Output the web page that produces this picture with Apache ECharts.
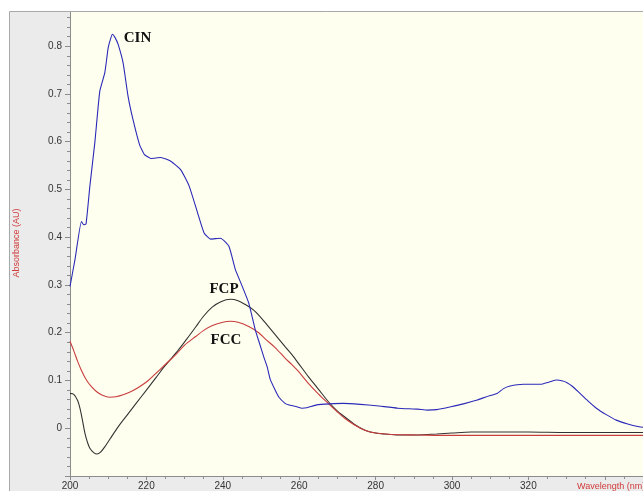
<!DOCTYPE html>
<html>
<head>
<meta charset="utf-8">
<script src="https://cdn.jsdelivr.net/npm/echarts@6/dist/echarts.min.js"></script>
<style>html,body{margin:0;padding:0;background:#fff}#c{width:643px;height:491px}</style>
</head>
<body>
<div id="c"></div>
<script>
// ---- data (wavelength nm, absorbance AU) ----
const cinX = [200,201.3,203.0,203.6,204.2,205.2,206.5,207.8,209.1,210.0,210.6,211.1,211.8,212.6,213.9,215.2,216.5,218.2,219.5,221.2,223.8,226.4,229.0,231.2,233.4,235.1,236.8,239.4,241.6,243.3,245.1,246.8,248.5,249.6,250.7,251.6,252.4,253.7,254.6,256.3,257.2,259.4,260.7,262,264.6,268,271.5,276,280.2,285.8,291,293.6,296,299.7,303,306.6,309,311.8,313.5,315,318.7,323.1,325.5,327.4,329,330.0,331.5,333.5,335.5,337.8,340.5,343.0,346,349,350];
const cinY = [0.297,0.353,0.433,0.426,0.428,0.507,0.598,0.706,0.744,0.797,0.815,0.825,0.818,0.804,0.765,0.695,0.646,0.594,0.573,0.565,0.567,0.559,0.541,0.507,0.451,0.409,0.396,0.398,0.381,0.332,0.297,0.262,0.206,0.178,0.150,0.129,0.103,0.080,0.066,0.052,0.049,0.045,0.042,0.043,0.049,0.051,0.052,0.050,0.047,0.042,0.040,0.038,0.039,0.045,0.051,0.059,0.066,0.073,0.083,0.088,0.092,0.092,0.097,0.101,0.099,0.096,0.088,0.073,0.058,0.042,0.028,0.017,0.009,0.003,0.002];

const fcpX = [200,201,202,202.6,203.3,203.9,204.6,205.2,206.2,207.1,208,209.1,210.5,212.6,215,217.3,220,222.5,225,228.2,230.5,232.9,235,237.3,239.5,242.0,244,245.9,248,249.4,251.1,253.7,256.3,258.1,259.8,262.4,265,267.6,270,271.9,274.5,277.2,280,282.3,286,291,296,300,305,320,330,350];
const fcpY = [0.073,0.071,0.058,0.042,0.015,-0.010,-0.030,-0.042,-0.051,-0.054,-0.050,-0.039,-0.022,0.003,0.028,0.052,0.080,0.106,0.132,0.162,0.186,0.212,0.235,0.254,0.265,0.270,0.267,0.259,0.248,0.237,0.221,0.196,0.171,0.154,0.136,0.108,0.082,0.056,0.036,0.024,0.008,-0.004,-0.010,-0.012,-0.014,-0.014,-0.012,-0.010,-0.008,-0.008,-0.009,-0.009];

const fccX = [200,201,202,203,204.3,205.5,206.9,208.5,210.4,212,213.9,216,218.2,220.5,222.5,225,227.7,230,232.9,235,237.3,240,242.0,244,246.8,249.4,251.1,253.7,256.3,258.1,259.8,262.4,265,267.6,270,271.9,274.5,277.2,280,284.1,291,300,350];
const fccY = [0.182,0.162,0.140,0.121,0.101,0.088,0.077,0.069,0.065,0.066,0.070,0.077,0.087,0.100,0.115,0.134,0.154,0.174,0.192,0.205,0.215,0.222,0.224,0.222,0.213,0.200,0.187,0.169,0.147,0.133,0.119,0.094,0.072,0.052,0.034,0.021,0.007,-0.004,-0.010,-0.013,-0.014,-0.015,-0.015];

const xTickLabels = [200,220,240,260,280,300,320];
const yTickLabels = [0,0.1,0.2,0.3,0.4,0.5,0.6,0.7,0.8];

const zip = (xs, ys) => xs.map((x, i) => [x, ys[i]]);

const chart = echarts.init(document.getElementById('c'), null, {renderer: 'canvas'});
const axisGray = '#8c8c8c';
const option = {
  backgroundColor: '#ebebeb',
  animation: false,
  grid: {left: 70, top: 8, width: 577, height: 468, show: true, backgroundColor: '#fffff0', borderWidth: 0, containLabel: false},
  xAxis: {
    type: 'value', min: 200, max: 350, interval: 20,
    axisLine: {show: true, onZero: false, lineStyle: {color: axisGray, width: 1}},
    axisTick: {show: true, length: 4, lineStyle: {color: axisGray}},
    minorTick: {show: true, splitNumber: 4, length: 3, lineStyle: {color: axisGray}},
    splitLine: {show: false},
    axisLabel: {
      margin: 5, color: '#333', fontSize: 10, fontFamily: 'Liberation Sans',
      showMaxLabel: false,
      formatter: v => xTickLabels.indexOf(Math.round(v)) >= 0 && Math.abs(v - Math.round(v)) < 1e-6 ? String(Math.round(v)) : ''
    }
  },
  yAxis: {
    type: 'value', min: -0.1, max: 0.88, interval: 0.1,
    axisLine: {show: true, onZero: false, lineStyle: {color: axisGray, width: 1}},
    axisTick: {show: true, length: 5, lineStyle: {color: axisGray}},
    minorTick: {show: true, splitNumber: 5, length: 3, lineStyle: {color: axisGray}},
    splitLine: {show: false},
    axisLabel: {
      margin: 8, color: '#333', fontSize: 10, fontFamily: 'Liberation Sans',
      showMinLabel: false, showMaxLabel: false,
      formatter: v => {
        const r = Math.round(v * 10) / 10;
        if (Math.abs(v - r) > 1e-6) return '';
        const hit = yTickLabels.find(t => Math.abs(t - r) < 1e-6);
        if (hit === undefined) return '';
        return hit === 0 ? '0' : hit.toFixed(1);
      }
    }
  },
  series: [
    {name: 'CIN', type: 'line', data: zip(cinX, cinY), showSymbol: false, smooth: 0.15, lineStyle: {color: '#2a2ab8', width: 1.1}, z: 3},
    {name: 'FCP', type: 'line', data: zip(fcpX, fcpY), showSymbol: false, smooth: 0.3, lineStyle: {color: '#333333', width: 1.1}, z: 2},
    {name: 'FCC', type: 'line', data: zip(fccX, fccY), showSymbol: false, smooth: 0.3, lineStyle: {color: '#c83c3c', width: 1.1}, z: 2}
  ],
  graphic: [
    {type: 'rect', z: 100, shape: {x: 0, y: 0, width: 643, height: 11}, style: {fill: '#ffffff'}},
    {type: 'rect', z: 100, shape: {x: 0, y: 0, width: 9, height: 491}, style: {fill: '#ffffff'}},
    {type: 'line', z: 101, shape: {x1: 9.5, y1: 11.5, x2: 643, y2: 11.5}, style: {stroke: '#a8a8a8', lineWidth: 1}},
    {type: 'line', z: 101, shape: {x1: 9.5, y1: 11.5, x2: 9.5, y2: 491}, style: {stroke: '#a8a8a8', lineWidth: 1}},
    {type: 'text', z: 102, x: 137.5, y: 38.5, style: {text: 'CIN', font: 'bold 15px "Liberation Serif"', fill: '#111', align: 'center', verticalAlign: 'middle'}},
    {type: 'text', z: 102, x: 224, y: 289, style: {text: 'FCP', font: 'bold 15px "Liberation Serif"', fill: '#111', align: 'center', verticalAlign: 'middle'}},
    {type: 'text', z: 102, x: 226, y: 340, style: {text: 'FCC', font: 'bold 15px "Liberation Serif"', fill: '#111', align: 'center', verticalAlign: 'middle'}},
    {type: 'text', z: 102, x: 16.5, y: 243, rotation: Math.PI / 2, style: {text: 'Absorbance (AU)', font: '9px "Liberation Sans"', fill: '#d03a3a', align: 'center', verticalAlign: 'middle'}},
    {type: 'text', z: 102, x: 577, y: 487, style: {text: 'Wavelength (nm)', font: '9px "Liberation Sans"', fill: '#d03a3a', align: 'left', verticalAlign: 'middle'}}
  ]
};
chart.setOption(option);
</script>
</body>
</html>
